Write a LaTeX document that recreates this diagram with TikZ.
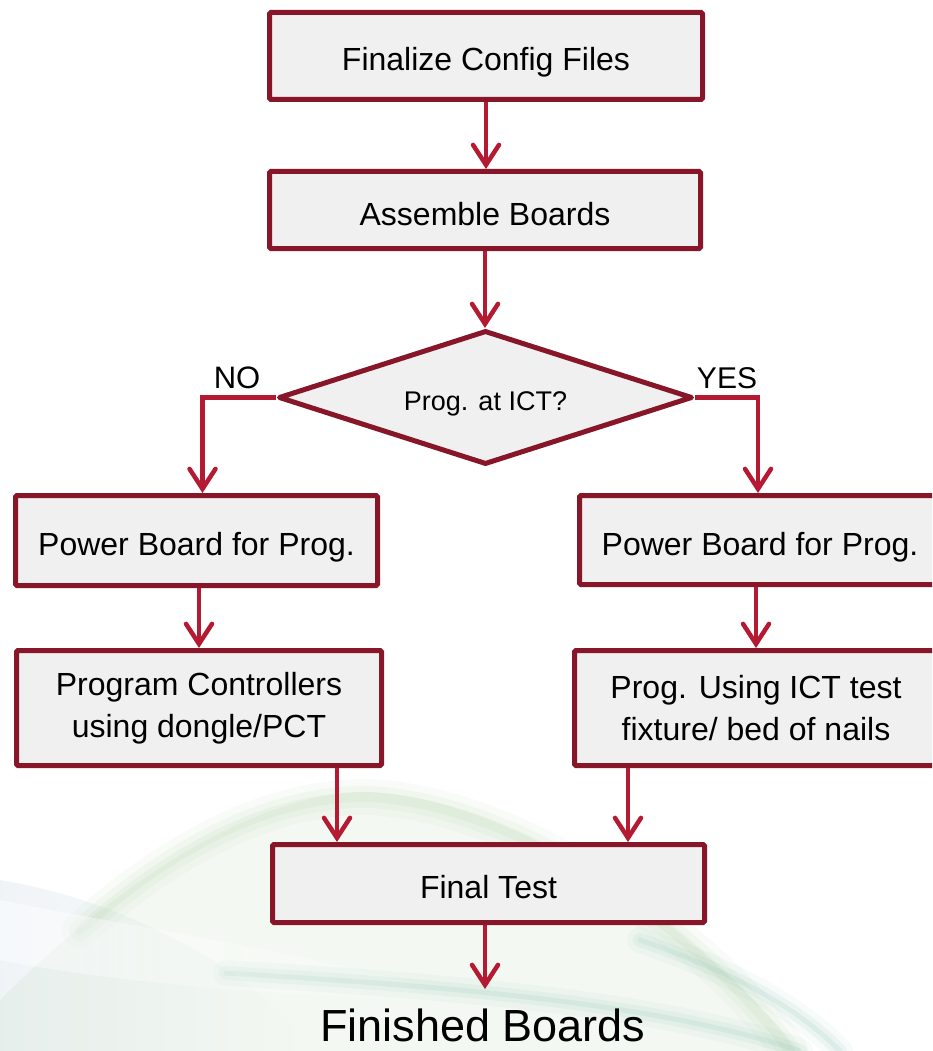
\documentclass[tikz,border=0pt]{standalone}
\usepackage{fontspec}
\setmainfont{Liberation Sans}
\usetikzlibrary{arrows.meta,shapes.geometric,calc,fadings}

\definecolor{boxborder}{RGB}{134,22,40}
\definecolor{arrowred}{RGB}{180,26,50}
\definecolor{boxfill}{RGB}{240,240,240}
\definecolor{leafgreen}{RGB}{178,208,168}
\definecolor{leafteal}{RGB}{150,200,185}
\definecolor{hazeblue}{RGB}{210,222,232}

\tikzset{
  procbox/.style={draw=boxborder, line width=5pt, fill=boxfill,
    rounded corners=1.5pt, inner sep=0pt, align=center,
    font=\fontsize{32}{42}\selectfont},
  oneline/.style={text height=30pt, text depth=0pt},
  decision/.style={diamond, aspect=3, draw=boxborder, line width=5pt, fill=boxfill,
    line join=round, inner sep=0pt, font=\fontsize{27}{32}\selectfont,
    text height=26pt, text depth=0pt},
  flow/.style={draw=arrowred, line width=4.5pt,
    -{Straight Barb[length=20pt,width=26pt,line cap=round]}},
  branchlabel/.style={inner sep=0pt, font=\fontsize{31}{36}\selectfont},
}

\begin{document}
\begin{tikzpicture}[x=1pt,y=-1pt]
\useasboundingbox (0,0) rectangle (932,1051);
\begin{scope}
\clip (0,0) rectangle (932,1051);

% soft leaf swoosh in the lower part of the background
\fill[hazeblue, opacity=0.35, path fading=east] (0,880) .. controls (120,900) and (240,960) .. (320,1051) -- (0,1051) -- cycle;
\fill[leafgreen, opacity=0.14] (0,1000) .. controls (120,880) and (260,790) .. (370,792)
  .. controls (520,800) and (700,930) .. (800,1051) -- (0,1051) -- cycle;
\foreach \w/\o in {36/0.08, 22/0.11, 10/0.15}{
  \draw[leafgreen, line width=\w pt, opacity=\o, line cap=round]
    (80,930) .. controls (170,850) and (270,795) .. (370,797)
    .. controls (520,805) and (700,930) .. (790,1051);
}
\foreach \w/\o in {26/0.08, 14/0.12, 5/0.18}{
  \draw[leafteal, line width=\w pt, opacity=\o, line cap=round]
    (226,973) .. controls (420,985) and (650,1000) .. (800,1051);
  \draw[leafteal, line width=\w pt, opacity=\o, line cap=round]
    (640,940) .. controls (740,975) and (800,1010) .. (840,1051);
}
\fill[white, opacity=0.45, path fading=east] (0,900) .. controls (150,930) and (350,960) .. (470,1000)
  .. controls (380,1000) and (150,990) .. (0,960) -- cycle;

% process steps
\node[procbox, oneline, minimum width=433pt, minimum height=87pt] (cfg) at (486,56) {Finalize Config Files};
\node[procbox, oneline, minimum width=431pt, minimum height=77pt] (asm) at (485,210) {Assemble Boards};
\node[decision, minimum width=414pt, minimum height=134pt] (ict) at (485.5,397.5) {Prog. at ICT?};
\node[procbox, oneline, minimum width=362pt, minimum height=90pt] (pwrL) at (196.5,540.5) {Power Board for Prog.};
\node[procbox, oneline, minimum width=361pt, minimum height=89pt] (pwrR) at (760,540) {Power Board for Prog.};
\node[procbox, minimum width=365pt, minimum height=115pt] (pgmL) at (199,708) {Program Controllers\\using dongle/PCT};
\node[procbox, minimum width=363pt, minimum height=115pt] (pgmR) at (756,708) {Prog. Using ICT test\\fixture/ bed of nails};
\node[procbox, oneline, minimum width=432pt, minimum height=78pt] (fin) at (488.5,883.5) {Final Test};
\node[font=\fontsize{45}{54}\selectfont, anchor=base, inner sep=0pt] (done) at (483,1041) {Finished Boards};
\coordinate (doneTip) at (485,989);

% branch labels
\node[branchlabel] (no) at (237,378) {NO};
\node[branchlabel, font=\fontsize{30}{36}\selectfont] (yes) at (727,378) {YES};

% connectors
\draw[flow] (cfg.south) -- (cfg.south |- asm.north);
\draw[flow] (asm.south) -- (asm.south |- ict.north);
\draw[flow] (ict.west) -| ([xshift=6pt]pwrL.north);
\draw[flow] (ict.east) -| ([xshift=-2pt]pwrR.north);
\draw[flow] (pwrL.south -| pgmL.north) -- (pgmL.north);
\draw[flow] (pwrR.south -| pgmR.north) -- (pgmR.north);
\draw[flow] ([xshift=-47pt]pgmL.south east) -- ([xshift=-47pt]pgmL.south east |- fin.north);
\draw[flow] ([xshift=56pt]pgmR.south west) -- ([xshift=56pt]pgmR.south west |- fin.north);
\draw[flow] (fin.south -| doneTip) -- (doneTip);
\end{scope}
\end{tikzpicture}
\end{document}
